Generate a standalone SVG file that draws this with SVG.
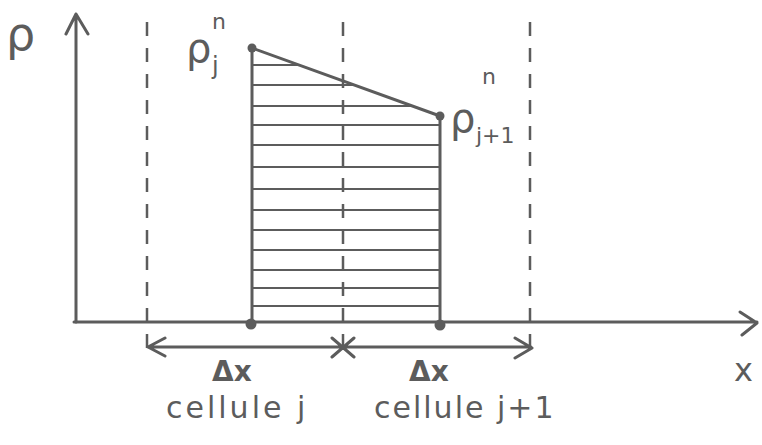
<svg xmlns="http://www.w3.org/2000/svg" width="762" height="445" viewBox="0 0 762 445">
<style>
.ln{stroke:#5c5c5c;stroke-width:3;fill:none;stroke-linecap:round;stroke-linejoin:round}
.dash{stroke:#5c5c5c;stroke-width:2.5;fill:none;stroke-dasharray:14 12}
.hatch{stroke:#5c5c5c;stroke-width:2;fill:none}
.dot{fill:#5c5c5c}
text{font-family:"DejaVu Sans","Liberation Sans",sans-serif;fill:#5c5c5c}
</style>
<rect width="762" height="445" fill="#fff"/>
<g id="axes">
<path class="ln" d="M76 322 V14 M66 34 L76 14 L88 34"/>
<path class="ln" d="M74 322 H757 M740 312 L757 323 L742 335"/>
<text x="734" y="381" font-size="32">x</text>
<text x="6" y="50" font-size="46">ρ</text>
</g>
<g id="cell-boundaries">
<path class="dash" d="M147 22 V356"/>
<path class="dash" d="M343 22 V356"/>
<path class="dash" d="M530 22 V356"/>
</g>
<g id="area">
<path class="hatch" d="M252 65 H299 M252 85 H354 M252 106 H412 M252 125 H440 M252 145 H440 M252 167 H440 M252 189 H440 M252 210 H440 M252 230 H440 M252 250 H440 M252 270 H440 M252 288 H440 M252 306 H440"/>
<path class="ln" d="M252 324 V48 L440 116 V325"/>
<circle class="dot" cx="252" cy="48" r="4.5"/>
<circle class="dot" cx="440" cy="116" r="4.5"/>
<circle class="dot" cx="251" cy="324" r="5.5"/>
<circle class="dot" cx="440" cy="325" r="5.5"/>
</g>
<g id="label-rho-j">
<text x="186" y="62" font-size="40">ρ</text>
<text x="212" y="74" font-size="24">j</text>
<text x="212" y="29" font-size="22">n</text>
</g>
<g id="label-rho-j1">
<text x="450" y="132" font-size="40">ρ</text>
<text x="476" y="143" font-size="22">j+1</text>
<text x="482" y="84" font-size="22">n</text>
</g>
<g id="connectors">
<path class="ln" d="M148 347 H531 M165 338 L148 347 L165 356 M515 338 L532 348 L515 358 M332 338 L354 357 M332 357 L354 338"/>
</g>
<g id="cell-j">
<text x="212" y="381" font-size="28" font-weight="bold">Δx</text>
<text x="166" y="418" font-size="30" letter-spacing="3">cellule j</text>
</g>
<g id="cell-j1">
<text x="409" y="381" font-size="28" font-weight="bold">Δx</text>
<text x="374" y="418" font-size="30" letter-spacing="2">cellule j+1</text>
</g>
</svg>
